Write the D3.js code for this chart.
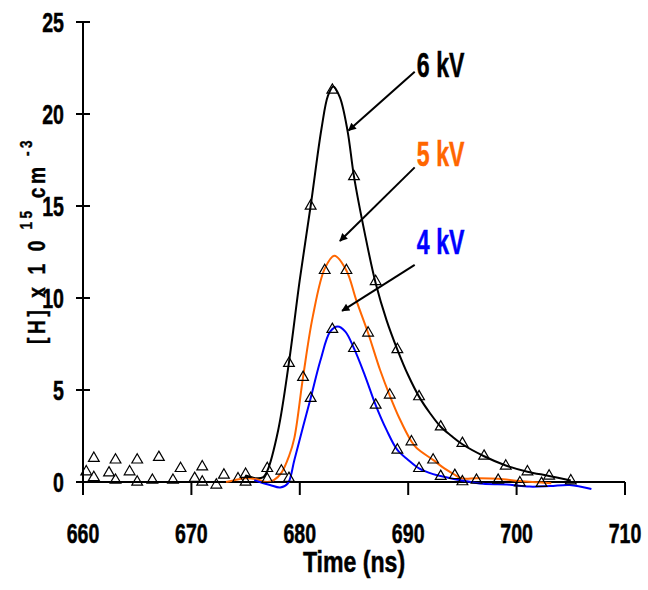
<!DOCTYPE html>
<html><head><meta charset="utf-8">
<script src="https://cdn.jsdelivr.net/npm/d3@7"></script>
<style>body{margin:0;background:#fff}svg{display:block}</style>
</head><body>
<svg id="c" width="648" height="590"></svg>
<script>
// ---- data ----
const xTicks = [660, 670, 680, 690, 700, 710];
const yTicks = [0, 5, 10, 15, 20, 25];

// measured points (triangles)
const t6 = [661,663,665,667,669,671,673,675,677,679,681,683,685,687,689,691,693,695,697,699,701,703,705];
const v6 = [1.29,1.2,1.2,1.34,0.74,0.83,0.38,0.42,0.74,6.45,15.0,21.3,16.6,10.9,7.2,4.64,3.0,2.1,1.41,0.87,0.56,0.33,0.07];
const t5 = [660.3,662.4,664.3,666.4,668.3,670.3,672.3,674.3,678.3,680.3,682.3,684.3,686.3,688.3,690.3,692.3,694.3,696.3,698.3,700.3,702.3];
const v5 = [0.56,0.5,0.56,0.1,0.1,0.2,-0.16,0.18,0.6,5.69,11.5,11.5,8.1,4.73,2.19,1.2,0.36,0.1,0.1,-0.04,-0.07];
const t4 = [661,663,665,671,675,677,679,681,683,685,687,689,691,693,695];
const v4 = [0.25,0.1,0.0,0.0,0.0,0.15,0.2,4.55,8.3,7.26,4.18,1.74,0.74,0.31,0.02];

// fitted curves
const c6t = [675.0,676.0,676.6,677.0,678.0,679.0,680.0,681.0,682.0,682.6,683.1,683.7,684.4,685.0,686.0,687.0,688.0,689.0,690.0,691.0,692.0,693.0,694.0,695.0,697.0,699.0,701.0,703.0,705.0];
const c6v = [0.35,0.2,0.25,0.6,2.8,6.5,11.0,15.0,19.2,21.0,21.5,20.9,19.1,16.6,13.5,10.8,8.8,7.2,5.8,4.64,3.75,3.0,2.5,2.05,1.4,0.9,0.56,0.33,0.08];
const c5t = [673.2,674.0,675.0,676.0,677.0,677.6,678.3,679.0,679.5,680.3,681.2,682.3,683.2,684.3,685.2,686.3,687.4,688.3,689.2,690.3,690.8,692.3,693.3,694.2,694.9,696.3,698.3,700.3,703.2];
const c5v = [0.0,0.1,0.2,0.15,0.0,0.1,0.5,1.4,2.4,5.7,9.0,11.6,12.3,11.5,9.9,8.1,6.1,4.7,3.45,2.2,1.83,1.2,0.75,0.43,0.2,0.2,0.17,0.05,-0.07];
const c4t = [675.8,676.3,677.25,678.2,678.9,679.5,680.3,681.0,681.9,682.8,683.5,684.2,685.0,686.0,687.0,688.0,689.0,690.0,691.0,692.3,693.5,694.8,696.9,699.1,701.2,703.1,704.9,706.9];
const c4v = [0.1,0.0,-0.16,-0.3,-0.07,1.2,3.0,4.55,6.6,8.17,8.45,8.17,7.26,5.8,4.18,2.83,1.74,1.2,0.74,0.43,0.26,0.1,-0.1,-0.13,-0.25,-0.22,-0.16,-0.38];

const labels = ["6 kV", "5 kV", "4 kV"];
const colors = ["#000000", "#ff6600", "#0000ff"];
// arrow start/end in data coordinates
const arrows = [
  [[690.6, 22.3], [684.5, 19.1]],
  [[690.6, 17.1], [683.7, 13.1]],
  [[690.6, 11.8], [683.9, 9.3]]
];
const labelPos = [[690.8, 22.0], [690.8, 17.2], [690.8, 12.4]];

// ---- drawing ----
const svg = d3.select("#c");
const x = d3.scaleLinear().domain([660, 710]).range([83, 625]);
const y = d3.scaleLinear().domain([0, 25]).range([482, 22]);
const FONT = "'Liberation Sans',Arial,sans-serif";

function txt(g, s, px, py, size, sx, anchor, color) {
  return g.append("g").attr("transform", `translate(${px},${py}) scale(${sx},1)`)
    .append("text").attr("font-family", FONT).attr("font-weight", "bold")
    .attr("font-size", size).attr("text-anchor", anchor || "start")
    .attr("fill", color || "#000").attr("stroke", color || "#000").attr("stroke-width", 0.5)
    .text(s);
}

// axes
const ax = svg.append("g");
ax.append("line").attr("x1", x(660) - 7).attr("x2", x(710)).attr("y1", y(0)).attr("y2", y(0))
  .attr("stroke", "#000").attr("stroke-width", 2);
ax.append("line").attr("x1", x(660)).attr("x2", x(660)).attr("y1", y(25)).attr("y2", y(0) + 13)
  .attr("stroke", "#000").attr("stroke-width", 2);
xTicks.forEach(t => {
  ax.append("line").attr("x1", x(t)).attr("x2", x(t)).attr("y1", y(0)).attr("y2", y(0) + 13)
    .attr("stroke", "#000").attr("stroke-width", 2);
  txt(ax, String(t), x(t), 543, 28, 0.7, "middle");
});
yTicks.forEach(v => {
  ax.append("line").attr("x1", x(660) - 7).attr("x2", x(660) + 7).attr("y1", y(v)).attr("y2", y(v))
    .attr("stroke", "#000").attr("stroke-width", 2);
  txt(ax, String(v), 64, y(v) + 10, 28, 0.7, "end");
});

// axis titles
txt(svg, "Time (ns)", 354, 572, 30, 0.77, "middle");
const yl = svg.append("g").attr("transform", "translate(45,344) rotate(-90) scale(0.8,1)")
  .append("text").attr("font-family", FONT).attr("font-weight", "bold").attr("font-size", 24)
  .attr("stroke", "#000").attr("stroke-width", 0.4)
  .attr("letter-spacing", 4.5);
yl.append("tspan").text("[H] x 1 0");
yl.append("tspan").attr("font-size", 17).attr("dy", -13).text(" 15");
yl.append("tspan").attr("dy", 13).text(" cm");
yl.append("tspan").attr("font-size", 17).attr("dy", -13).text(" -3");

// curves
const line = d3.line().x(d => x(d[0])).y(d => y(d[1])).curve(d3.curveCatmullRom.alpha(0.5));
const curves = [[c6t, c6v], [c5t, c5v], [c4t, c4v]];
curves.forEach((c, i) => {
  svg.append("path").datum(c[0].map((t, j) => [t, c[1][j]]))
    .attr("d", line).attr("fill", "none").attr("stroke", colors[i]).attr("stroke-width", 2);
});

// triangles
const tri = d3.symbol().type(d3.symbolTriangle).size(50);
[[t6, v6], [t5, v5], [t4, v4]].forEach(s => {
  svg.append("g").selectAll("path").data(s[0].map((t, j) => [t, s[1][j]])).join("path")
    .attr("transform", d => `translate(${x(d[0])},${y(d[1])})`)
    .attr("d", tri).attr("fill", "none").attr("stroke", "#000").attr("stroke-width", 1.2);
});

// arrows
const defs = svg.append("defs");
defs.append("marker").attr("id", "ah").attr("viewBox", "0 0 10 10").attr("refX", 9).attr("refY", 5)
  .attr("markerWidth", 11).attr("markerHeight", 8).attr("markerUnits", "userSpaceOnUse").attr("orient", "auto")
  .append("path").attr("d", "M0,0 L10,5 L0,10 Z").attr("fill", "#000");
arrows.forEach(a => {
  svg.append("line").attr("x1", x(a[0][0])).attr("y1", y(a[0][1]))
    .attr("x2", x(a[1][0])).attr("y2", y(a[1][1]))
    .attr("stroke", "#000").attr("stroke-width", 2).attr("marker-end", "url(#ah)");
});
labels.forEach((l, i) => {
  txt(svg, l, x(labelPos[i][0]), y(labelPos[i][1]), 35, 0.66, "start", colors[i]);
});
</script>
</body></html>
